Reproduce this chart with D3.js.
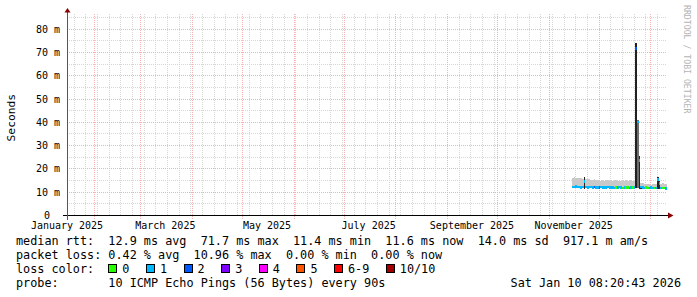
<!DOCTYPE html>
<html>
<head>
<meta charset="utf-8">
<script src="https://cdn.jsdelivr.net/npm/d3@7"></script>
<style>
body { margin: 0; background: #fff; }
svg text { font-family: "DejaVu Sans Mono", monospace; fill: #000; }
</style>
</head>
<body>
<svg id="chart" width="697" height="297"></svg>
<script>
// 360 day smokeping view, one bin per day from firstDay on
var firstDay = "2025-11-15"
var medianMs = [
    12.3, 12.2, 12.4, 12.2, 12.3, 12.1, 12.3, 14.6, 12.2, 12.1,
    12.3, 12.2, 12.1, 12.2, 12.0, 12.1, 12.0, 12.2, 12.1, 12.0,
    12.1, 12.2, 12.0, 12.1, 12.0, 11.9, 12.1, 12.0, 12.2, 12.0,
    11.9, 12.1, 12.0, 12.1, 11.9, 12.0, 12.1, 12.0, 71.7, 40.2,
    23.6, 12.3, 12.0, 11.9, 12.0, 11.8, 11.9, 12.0, 11.8, 11.9,
    11.8, 15.4, 13.7, 11.8, 11.7, 11.8, 11.6
]
var lossCount = [
    1, 1, 1, 1, 1, 1, 1, 1, 1, 1,
    1, 1, 1, 2, 1, 1, 2, 1, 1, 1,
    1, 1, 1, 1, 1, 1, 0, 1, 1, 1,
    0, 1, 0, 0, 1, 1, 0, 1, 2, 1,
    1, 1, 1, 1, 0, 0, 1, 1, 1, 0,
    1, 1, 1, 1, 0, 0, 1
]
var smokeTopMs = [
    16.2, 16.4, 15.9, 16.3, 16.0, 16.2, 15.8, 16.6, 15.7, 15.5,
    15.6, 15.3, 15.4, 15.5, 15.2, 15.1, 15.3, 15.0, 15.2, 14.9,
    15.1, 15.4, 15.0, 15.2, 14.9, 15.1, 15.3, 15.0, 15.2, 14.8,
    15.1, 15.0, 15.3, 14.9, 15.1, 15.2, 14.9, 15.0, 74.0, 41.0,
    25.5, 14.0, 13.8, 13.5, 13.7, 13.4, 13.6, 13.3, 13.5, 13.7,
    13.4, 16.6, 14.8, 13.6, 13.8, 13.5, 13.7
]
// days where the smoke core is dense (dark columns)
var spikeDays = [7, 38, 39, 40, 41, 51, 52]
var spikeLowMs = [11.4, 11.6, 11.6, 11.5, 11.3, 11.4, 11.4]
var spikeTopMs = [16.6, 74.0, 41.0, 25.5, 12.8, 16.6, 14.6]
var spikeDensity = [0.95, 0.97, 0.55, 0.95, 0.9, 0.95, 0.9]

var yTickValues = [0, 10, 20, 30, 40, 50, 60, 70, 80]
var yMinorValues = [5, 15, 25, 35, 45, 55, 65, 75, 85]

var lossLabels = ["0", "1", "2", "3", "4", "5", "6-9", "10/10"]
var lossColors = ["#26ff00", "#00b8ff", "#0059ff", "#7e00ff", "#ff00ff", "#ff5500", "#ff0000", "#a10000"]

var legendRows = [
    "median rtt:  12.9 ms avg  71.7 ms max  11.4 ms min  11.6 ms now  14.0 ms sd  917.1 m am/s",
    "packet loss: 0.42 % avg  10.96 % max  0.00 % min  0.00 % now"
]
var probeText = "10 ICMP Echo Pings (56 Bytes) every 90s"
var stampText = "Sat Jan 10 08:20:43 2026"

var margin = {top: 13.5, left: 67, right: 30, bottom: 81.5}
var width = 697 - margin.left - margin.right
var height = 297 - margin.top - margin.bottom

var startT = new Date(Date.UTC(2025, 0, 16))
var endT = new Date(Date.UTC(2026, 0, 11))
var x = d3.scaleUtc().domain([startT, endT]).range([margin.left, margin.left + width])
var y = d3.scaleLinear().domain([0, 86.7]).range([margin.top + height, margin.top])
var baseY = margin.top + height

var svg = d3.select("#chart")

// ---- grid
var grid = svg.append("g").attr("shape-rendering", "crispEdges")

grid.selectAll(".hmin").data(yMinorValues).enter().append("line")
    .attr("x1", margin.left).attr("x2", margin.left + width)
    .attr("y1", d => y(d)).attr("y2", d => y(d))
    .attr("stroke", "#d6d6d6").attr("stroke-dasharray", "1,1")

grid.selectAll(".vmin").data(d3.utcMonday.range(startT, endT)).enter().append("line")
    .attr("x1", d => Math.round(x(d)) + 0.5).attr("x2", d => Math.round(x(d)) + 0.5)
    .attr("y1", margin.top).attr("y2", baseY)
    .attr("stroke", "#d6d6d6").attr("stroke-dasharray", "1,1")

grid.selectAll(".hmaj").data(yTickValues.filter(d => d > 0)).enter().append("line")
    .attr("x1", margin.left).attr("x2", margin.left + width)
    .attr("y1", d => y(d)).attr("y2", d => y(d))
    .attr("stroke", "#f5b0b0").attr("stroke-dasharray", "1,1")

grid.selectAll(".vmaj").data(d3.utcMonth.range(startT, endT)).enter().append("line")
    .attr("x1", d => Math.round(x(d)) + 0.5).attr("x2", d => Math.round(x(d)) + 0.5)
    .attr("y1", margin.top).attr("y2", baseY + 3)
    .attr("stroke", "#f5b0b0").attr("stroke-dasharray", "1,1")

// ---- data
var day0 = new Date(firstDay + "T00:00:00Z")
var bins = medianMs.map((m, i) => ({
    t0: d3.utcDay.offset(day0, i),
    t1: d3.utcDay.offset(day0, i + 1),
    median: m,
    loss: lossCount[i],
    top: smokeTopMs[i]
}))

function lossColor(n) {
    if (n <= 5) return lossColors[n]
    if (n < 10) return lossColors[6]
    return lossColors[7]
}

var plot = svg.append("g").attr("shape-rendering", "crispEdges")

plot.selectAll(".smoke").data(bins).enter().append("rect")
    .attr("x", d => x(d.t0)).attr("width", d => x(d.t1) - x(d.t0))
    .attr("y", d => y(d.top)).attr("height", d => y(d.median) - y(d.top))
    .attr("fill", "#c9c9c9")

var shade = d3.scaleLinear().domain([0, 1]).range(["#d0d0d0", "#1c1c1c"])
plot.selectAll(".core").data(spikeDays).enter().append("rect")
    .attr("x", (d, i) => x(bins[d].t0)).attr("width", (d, i) => x(bins[d].t1) - x(bins[d].t0))
    .attr("y", (d, i) => y(spikeTopMs[i])).attr("height", (d, i) => y(spikeLowMs[i]) - y(spikeTopMs[i]))
    .attr("fill", (d, i) => shade(spikeDensity[i]))

plot.selectAll(".med").data(bins).enter().append("rect")
    .attr("x", d => x(d.t0)).attr("width", d => x(d.t1) - x(d.t0))
    .attr("y", d => y(d.median) - 1.2).attr("height", 2.4)
    .attr("fill", d => lossColor(d.loss))

// ---- axes
var axes = svg.append("g").attr("shape-rendering", "crispEdges")
axes.append("line")
    .attr("x1", margin.left - 4).attr("x2", margin.left + width + 2)
    .attr("y1", baseY).attr("y2", baseY).attr("stroke", "#000")
axes.append("line")
    .attr("x1", margin.left + 0.5).attr("x2", margin.left + 0.5)
    .attr("y1", baseY + 4).attr("y2", margin.top - 1.5).attr("stroke", "#555")

svg.append("path")
    .attr("d", d3.line()([[margin.left + 0.5 - 3, margin.top - 1], [margin.left + 0.5, margin.top - 5.5], [margin.left + 0.5 + 3, margin.top - 1]]) + "Z")
    .attr("fill", "#8b0000")
svg.append("path")
    .attr("d", d3.line()([[margin.left + width + 1, baseY - 3], [margin.left + width + 6.5, baseY], [margin.left + width + 1, baseY + 3]]) + "Z")
    .attr("fill", "#8b0000")

svg.append("g").selectAll("text").data(yTickValues).enter().append("text")
    .attr("x", d => d == 0 ? 50 : 60)
    .attr("y", d => y(d) - (d == 0 ? 0.5 : 0))
    .attr("dy", "0.35em")
    .attr("text-anchor", "end")
    .style("font-size", "10px")
    .text(d => d == 0 ? "0" : d + " m")

var monthLabels = d3.utcMonth.every(2).range(new Date(Date.UTC(2025, 0, 1)), endT)
    .filter(d => d3.utcDay.offset(d, 15) <= endT)
svg.append("g").selectAll("text").data(monthLabels).enter().append("text")
    .attr("x", d => x(d3.utcDay.offset(d, 15)))
    .attr("y", 228.5)
    .attr("text-anchor", "middle")
    .style("font-size", "10px")
    .text(d3.utcFormat("%B %Y"))

svg.append("text")
    .attr("transform", "translate(14.5," + y(42) + ") rotate(-90)")
    .attr("text-anchor", "middle")
    .style("font-size", "11.3px")
    .text("Seconds")

svg.append("text")
    .attr("transform", "translate(684,5) rotate(90)")
    .style("font-size", "8.2px")
    .style("fill", "#b4b4b4")
    .text("RRDTOOL / TOBI OETIKER")

// ---- legend
var legendFont = "11.8px"
var rowY = [245, 259, 273, 287]
var leg = svg.append("g")
leg.selectAll(".row").data(legendRows).enter().append("text")
    .attr("x", 16).attr("y", (d, i) => rowY[i])
    .style("font-size", legendFont)
    .style("white-space", "pre")
    .text(d => d)

var lc = leg.append("text").attr("x", 16).attr("y", rowY[2])
    .style("font-size", legendFont).style("white-space", "pre").text("loss color:  ")
var cw = lc.node().getComputedTextLength() / 13
var bx = 16 + 13 * cw
lossLabels.forEach((lab, i) => {
    leg.append("rect")
        .attr("x", Math.round(bx) + 0.5).attr("y", rowY[2] - 8.5)
        .attr("width", 8).attr("height", 8)
        .attr("fill", lossColors[i]).attr("stroke", "#000")
        .attr("shape-rendering", "crispEdges")
    var t = leg.append("text").attr("x", bx + 14).attr("y", rowY[2])
        .style("font-size", legendFont).text(lab)
    bx = bx + 14 + t.node().getComputedTextLength() + 16.5
})

leg.append("text").attr("x", 16).attr("y", rowY[3])
    .style("font-size", legendFont).text("probe:")
leg.append("text").attr("x", 16 + 13 * cw).attr("y", rowY[3])
    .style("font-size", legendFont).text(probeText)
leg.append("text").attr("x", 681).attr("y", rowY[3])
    .attr("text-anchor", "end")
    .style("font-size", legendFont).text(stampText)
</script>
</body>
</html>
